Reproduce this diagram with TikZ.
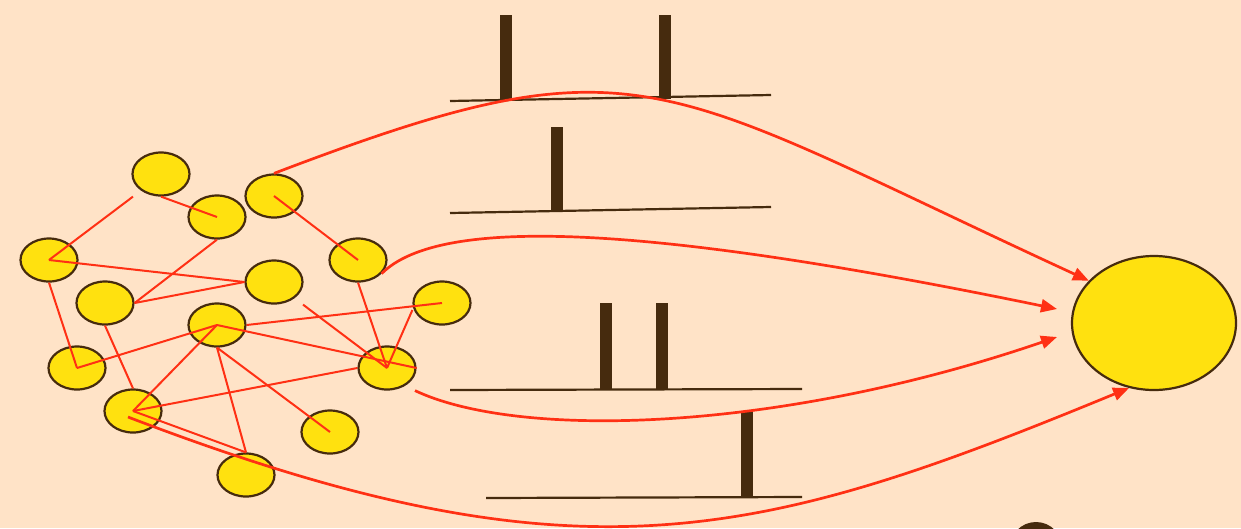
\documentclass[tikz,border=0pt]{standalone}
\usepackage{xcolor}
\usepackage{tikz}
\usetikzlibrary{shapes.geometric,arrows.meta,positioning,calc}

\definecolor{bgpeach}{RGB}{255,227,199}
\definecolor{cellyellow}{RGB}{255,225,15}
\definecolor{darkbrown}{RGB}{70,43,14}
\definecolor{linkred}{RGB}{255,48,20}

\begin{document}
\begin{tikzpicture}[x=1pt, y=-1pt, >=Triangle]
        \tikzstyle{cell} = [ellipse, draw=darkbrown, fill=cellyellow, line width=2.2pt, inner sep=0pt, minimum width=57pt, minimum height=43pt]
        \tikzstyle{link} = [draw=linkred, line width=2pt]
        \tikzstyle{train} = [draw=linkred, line width=2.7pt, -{Triangle[length=16pt,width=13pt]}]
        \tikzstyle{axis} = [draw=darkbrown, line width=2.2pt]
        \tikzstyle{spike} = [fill=darkbrown]

        \path[use as bounding box, fill=bgpeach] (0,0) rectangle (1241,528);

        % Network cells
        \node [cell] (n1) at (161,174) {};
        \node [cell] (n2) at (217,217) {};
        \node [cell] (n3) at (274,196) {};
        \node [cell] (n4) at (49,260) {};
        \node [cell] (n5) at (358,260) {};
        \node [cell] (n6) at (274,282) {};
        \node [cell] (n7) at (105,303) {};
        \node [cell] (n8) at (442,303) {};
        \node [cell] (n9) at (217,325) {};
        \node [cell] (n10) at (77,368) {};
        \node [cell] (n11) at (387,368) {};
        \node [cell] (n12) at (133,411) {};
        \node [cell] (n13) at (330,432) {};
        \node [cell] (n14) at (246,475) {};

        % Output cell
        \node [cell, minimum width=164pt, minimum height=134pt] (out) at (1154,323) {};
        \fill [darkbrown] (1036,550) ellipse [x radius=27, y radius=28];

        % Links
        \path [link] ([xshift=-28pt]n1.south) -- (n4.center);
        \path [link] (n1.south) -- (n2.center);
        \path [link] (n2.south) -- (n7.east);
        \path [link] (n3.center) -- (n5.center);
        \path [link] (n4.center) -- (n6.west);
        \path [link] (n7.east) -- (n6.west);
        \path [link] (n4.south) -- (n10.center);
        \path [link] (n10.center) -- (n9.center);
        \path [link] (n9.east) -- (n8.center);
        \path [link] (n9.center) -- (n11.east);
        \path [link] ([xshift=29pt]n6.south) -- (n11.center);
        \path [link] (n5.south) -- (n11.center);
        \path [link] (n11.center) -- ([yshift=-7pt]n8.west);
        \path [link] (n7.south) -- (n12.north);
        \path [link] (n9.center) -- (n12.center);
        \path [link] (n12.center) -- (n11.west);
        \path [link] (n9.south) -- (n14.north);
        \path [link] (n9.south) -- (n13.center);
        \path [link] (n12.center) -- (n14.north);

        % Spike trains
        \path [axis] (450,101) -- (771,95);
        \fill [spike] (500,15) rectangle (512,101);
        \fill [spike] (659,15) rectangle (671,99);
        \path [axis] (450,213) -- (771,207);
        \fill [spike] (551,127) rectangle (563,212);
        \path [axis] (450,390) -- (802,389);
        \fill [spike] (600,303) rectangle (612,389);
        \fill [spike] (656,303) rectangle (668,389);
        \path [axis] (486,498) -- (802,497);
        \fill [spike] (741,411) rectangle (753,497);

        % Curved paths to output
        \coordinate (inB) at (1057,309);
        \coordinate (inC) at (1057,337);
        \path [train] (n3.north) .. controls (642,33) and (653,80) .. (out.147);
        \path [train] (n5.-30) .. controls (440,215) and (650,225) .. (inB);
        \path [train] ([xshift=28pt]n11.south) .. controls (520,440) and (780,432) .. (inC);
        \path [train] ([shift={(-5pt,-6pt)}]n12.center) .. controls (580,590) and (760,540) .. (out.249);
    \end{tikzpicture}
\end{document}
